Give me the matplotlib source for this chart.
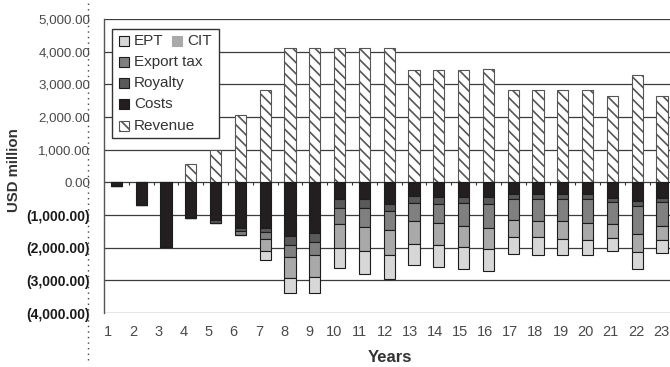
import numpy as np
import matplotlib
matplotlib.use('Agg')
from matplotlib import pyplot as plt
from matplotlib.patches import Rectangle
from matplotlib.lines import Line2D

plt.rcParams['font.family'] = ['Liberation Sans', 'DejaVu Sans']
plt.rcParams['hatch.linewidth'] = 1.2

# project cash flows, USD million
years = list(range(1, 24))
revenue = [0, 0, 0, 570, 1000, 2060, 2830, 4100, 4100, 4100, 4100, 4100,
           3450, 3450, 3450, 3460, 2830, 2830, 2830, 2830, 2640, 3300, 2640]
costs = [100, 700, 1980, 1080, 1140, 1390, 1390, 1630, 1565, 520, 520, 655,
         420, 440, 440, 440, 350, 350, 350, 350, 470, 575, 470]
royalty = [0, 0, 0, 0, 100, 100, 125, 275, 255, 275, 275, 225,
           205, 235, 205, 235, 175, 175, 155, 155, 120, 150, 135]
export_tax = [0, 0, 0, 0, 0, 110, 215, 380, 390, 490, 575, 585,
              565, 585, 695, 715, 615, 665, 665, 735, 675, 850, 735]
cit = [0, 0, 0, 0, 0, 0, 380, 645, 675, 740, 735, 765,
       695, 665, 645, 665, 540, 490, 565, 520, 450, 555, 430]
ept = [0, 0, 0, 0, 0, 0, 255, 460, 500, 610, 715, 725,
       655, 675, 665, 645, 510, 550, 500, 470, 390, 520, 390]
y_ticks = [5000, 4000, 3000, 2000, 1000, 0, -1000, -2000, -3000, -4000]

W, H = 670, 367
EDGE = '#1c1c1c'
outflows = [('Costs', costs, '#231f20'),
            ('Royalty', royalty, '#5a5a5a'),
            ('Export tax', export_tax, '#808080'),
            ('CIT', cit, '#a9a9a9'),
            ('EPT', ept, '#d7d7d7')]


def px(x, y):
    """pixel position (from top-left) -> figure fraction"""
    return x / W, 1 - y / H


def money(v):
    if v < 0:
        return '({:,.2f})'.format(-v)
    return '{:,.2f}'.format(v)


def draw_bars(ax):
    x = np.array(years)
    ax.bar(x, revenue, width=0.45, color='white', edgecolor='#555555',
           linewidth=0.8, hatch='\\\\\\', zorder=3)
    bottom = np.zeros(len(years))
    for name, vals, col in outflows:
        v = -np.array(vals, dtype=float)
        ax.bar(x, v, width=0.45, bottom=bottom, color=col, edgecolor=EDGE,
               linewidth=0.8, zorder=3)
        bottom = bottom + v
    # small category ticks on the zero line
    ax.vlines(x[:-1] + 0.5, -90, 0, color='#333333', lw=0.8, zorder=2)


def style_axes(ax):
    ax.set_xlim(0.5, 0.5 + (W - 104) / 24.8)
    ax.set_ylim(-4000, 5000)
    ax.set_yticks(y_ticks)
    ax.set_yticklabels([money(v) for v in y_ticks])
    for lbl, v in zip(ax.get_yticklabels(), y_ticks):
        if v < 0:
            lbl.set_fontweight('bold')
            lbl.set_color('#1a1a1a')
            lbl.set_fontsize(10)
        else:
            lbl.set_color('#4a4a4a')
            lbl.set_fontsize(9.6)
    ax.tick_params(axis='y', length=0, pad=10)

    # category labels sit a little left of the bars
    pos = [(108 + (i - 1) * 25.14 - 104) / 24.8 + 0.5 for i in years]
    ax.set_xticks(pos)
    ax.set_xticklabels([str(y) for y in years], fontsize=10.5, color='#4a4a4a')
    ax.tick_params(axis='x', length=0, pad=9)

    ax.set_axisbelow(True)
    ax.yaxis.grid(True, color='#3c3c3c', lw=0.9)
    for s in ['top', 'right', 'bottom']:
        ax.spines[s].set_visible(False)
    ax.spines['left'].set_color('#555555')
    ax.spines['left'].set_linewidth(1.0)


def legend(fig):
    x0, y0 = px(112, 138)
    fig.add_artist(Rectangle((x0, y0), 107 / W, 109 / H, transform=fig.transFigure,
                             facecolor='white', edgecolor='#333333', lw=1.0, zorder=5))
    entries = [('EPT', '#d7d7d7', EDGE, None, 119, 41),
               ('CIT', '#a9a9a9', '#a9a9a9', None, 172, 41),
               ('Export tax', '#808080', EDGE, None, 119, 62),
               ('Royalty', '#5a5a5a', EDGE, None, 119, 83),
               ('Costs', '#231f20', EDGE, None, 119, 104),
               ('Revenue', 'white', '#555555', '\\\\\\', 119, 126)]
    for name, fc, ec, hatch, x, y in entries:
        bx, by = px(x, y + 4.7)
        fig.add_artist(Rectangle((bx, by), 9.5 / W, 9.5 / H, transform=fig.transFigure,
                                 facecolor=fc, edgecolor=ec, hatch=hatch,
                                 lw=0.8, zorder=6))
        tx, ty = px(x + 15, y)
        fig.text(tx, ty, name, fontsize=11, color='#333333', va='center',
                 ha='left', zorder=6)


fig = plt.figure(figsize=(W / 100, H / 100), dpi=100)
l, b = px(104, 313)
r, t = px(W, 19)
ax = fig.add_axes([l, b, r - l, t - b])
draw_bars(ax)
style_axes(ax)
legend(fig)

fig.text(*px(390, 358), 'Years', fontsize=12, fontweight='bold',
         color='#333333', ha='center', va='center')
fig.text(*px(14.5, 170.5), 'USD million', fontsize=10.8, fontweight='bold',
         color='#333333', ha='center', va='center', rotation=90)

# dotted rule left of the axis
fig.add_artist(Line2D([88 / W, 88 / W], [px(0, 360)[1], 1.0], transform=fig.transFigure,
                      color='#444444', lw=1.0, linestyle=(0, (1, 3))))

fig.savefig('out.png', dpi=100)
